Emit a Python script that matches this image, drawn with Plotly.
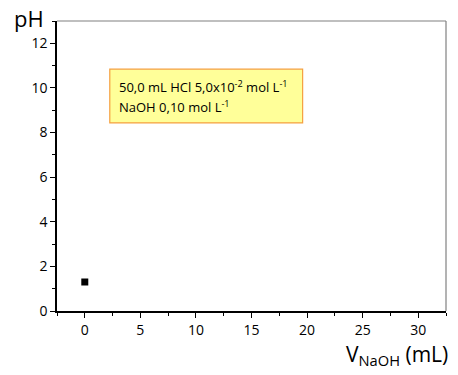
import plotly.graph_objects as go

volume_naoh = [0]
ph_values = [1.30]
x_ticks = [0, 5, 10, 15, 20, 25, 30]
y_ticks = [0, 2, 4, 6, 8, 10, 12]

font_family = "Comic Sans MS, Open Sans, sans-serif"

fig = go.Figure()
fig.add_trace(go.Scatter(
    x=volume_naoh, y=ph_values, mode="markers",
    marker=dict(symbol="square", size=7, color="black"),
    showlegend=False,
))

fig.update_layout(
    width=458, height=375,
    margin=dict(l=57, r=12, t=21, b=64),
    paper_bgcolor="white", plot_bgcolor="white",
    font=dict(family=font_family, size=14, color="black"),
    xaxis=dict(
        range=[-2.5, 32.5], tickvals=x_ticks, showgrid=False, zeroline=False,
        showline=True, linecolor="black", linewidth=1.5,
        ticks="outside", ticklen=5, tickcolor="black",
        minor=dict(dtick=2.5, tick0=0, ticks="outside", ticklen=3, tickcolor="black"),
        tickfont=dict(size=14),
    ),
    yaxis=dict(
        range=[0, 13], tickvals=y_ticks, showgrid=False, zeroline=False,
        showline=True, linecolor="black", linewidth=1.5,
        ticks="outside", ticklen=5, tickcolor="black",
        minor=dict(dtick=1, tick0=0, ticks="outside", ticklen=3, tickcolor="black"),
        tickfont=dict(size=14),
    ),
    shapes=[
        dict(type="line", xref="paper", yref="paper", x0=0, x1=1, y0=1, y1=1,
             line=dict(color="gray", width=1.2)),
        dict(type="line", xref="paper", yref="paper", x0=1, x1=1, y0=0, y1=1,
             line=dict(color="gray", width=1.2)),
        dict(type="rect", xref="x", yref="y", x0=2.25, x1=19.6, y0=8.43, y1=10.84,
             fillcolor="#FFFF99", line=dict(color="#F5A040", width=1.2)),
    ],
    annotations=[
        dict(xref="x", yref="y", x=2.9, y=10.05, xanchor="left", yanchor="middle",
             text="50,0 mL HCl 5,0x10<sup>-2</sup> mol L<sup>-1</sup>",
             showarrow=False, font=dict(size=13)),
        dict(xref="x", yref="y", x=2.9, y=9.15, xanchor="left", yanchor="middle",
             text="NaOH 0,10 mol L<sup>-1</sup>",
             showarrow=False, font=dict(size=13)),
        dict(xref="paper", yref="paper", x=-0.115, y=1.012, xanchor="left", yanchor="middle",
             text="pH", showarrow=False, font=dict(size=22)),
        dict(xref="paper", yref="paper", x=1.01, y=-0.152, xanchor="right", yanchor="middle",
             text="V<sub>NaOH</sub> (mL)", showarrow=False, font=dict(size=21)),
    ],
)

fig.write_html("out.html")
